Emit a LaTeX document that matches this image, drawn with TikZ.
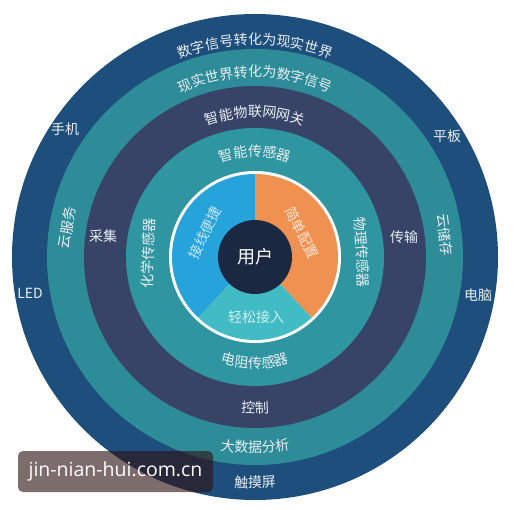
\documentclass[tikz,border=0pt]{standalone}
\usepackage{fontspec}
\setmainfont{Noto Sans CJK SC}
\newfontfamily\wmfont{Open Sans}
\usetikzlibrary{decorations.text}
\definecolor{ringA}{HTML}{1E4E7B}
\definecolor{ringB}{HTML}{2E8C99}
\definecolor{ringC}{HTML}{374468}
\definecolor{ringD}{HTML}{2F95A0}
\definecolor{pblue}{HTML}{27A3DC}
\definecolor{porange}{HTML}{EF9150}
\definecolor{pteal}{HTML}{41BCC4}
\definecolor{ccol}{HTML}{1B2841}
\definecolor{labc}{HTML}{E8EEF2}
\definecolor{wmc}{RGB}{46,19,19}
\newcommand\lblfmt{\fontsize{14}{14}\selectfont\color{labc}}
\begin{document}
\begin{tikzpicture}[x=1pt,y=1pt,
  lab/.style={text=labc, font=\fontsize{14}{14}\selectfont, inner sep=0pt},
  pielab/.style={text=white, text opacity=0.75, font=\fontsize{14}{14}\selectfont, inner sep=0pt},
  toptext/.style={decorate, decoration={text along path, text align=center, text={|\lblfmt|#1}}},
  bottext/.style={decorate, decoration={text along path, text align=center, text={|\lblfmt|#1}}}]
\useasboundingbox (0,0) rectangle (514,509);
\fill[white] (0,0) rectangle (514,509);
\coordinate (C) at (255,252);
% rings
\fill[ringA] (C) circle[radius=243];
\fill[ringB] (C) circle[radius=208];
\fill[ringC] (C) circle[radius=171];
\fill[ringD] (C) circle[radius=129];
\fill[white] (C) circle[radius=86];
% pie
\begin{scope}[shift={(C)}]
\fill[pblue] (0,0) -- (90:83) arc[start angle=90, end angle=227, radius=83] -- cycle;
\fill[porange] (0,0) -- (90:83) arc[start angle=90, end angle=-47, radius=83] -- cycle;
\fill[pteal] (0,0) -- (227:83) arc[start angle=227, end angle=313, radius=83] -- cycle;
% curved texts (top)
\path[toptext={数字信号转化为现实世界}] (140:212) arc[start angle=140, end angle=40, radius=212];
\path[toptext={现实世界转化为数字信号}] (140:180) arc[start angle=140, end angle=40, radius=180];
\path[toptext={智能物联网网关}] (150:140) arc[start angle=150, end angle=30, radius=140];
\path[toptext={智能传感器}] (160:100) arc[start angle=160, end angle=20, radius=100];
% curved texts (bottom)
\path[bottext={电阻传感器}] (220:111) arc[start angle=220, end angle=320, radius=111];
\path[bottext={控制}] (230:156) arc[start angle=230, end angle=310, radius=156];
\path[bottext={大数据分析}] (235:196) arc[start angle=235, end angle=305, radius=196];
\path[bottext={触摸屏}] (240:231) arc[start angle=240, end angle=300, radius=231];
\end{scope}
% center
\node[circle, fill=ccol, minimum size=74pt, inner sep=0pt, text=white, font=\fontsize{18}{18}\selectfont] (user) at (C) {用户};
% outer ring labels
\node[lab] (shouji) at (65,380) {手机};
\node[lab] (pingban) at (447,373) {平板};
\node[lab] (led) at (30,216) {LED};
\node[lab] (diannao) at (478,214) {电脑};
% teal ring side labels
\node[lab, rotate=81] (yunfuwu) at (67,281) {云服务};
\node[lab, rotate=-83] (yuncuncun) at (445,274) {云储存};
% dark ring labels
\node[lab] (caiji) at (103,273) {采集};
\node[lab] (chuanshu) at (404,272) {传输};
% inner teal ring labels
\node[lab, rotate=88] (huaxue) at (148,256) {化学传感器};
\node[lab, rotate=-87] (wuli) at (362,257) {物理传感器};
% pie labels
\node[pielab, rotate=64] (jiexian) at (205,276) {接线便捷};
\node[pielab, rotate=-63] (jiandan) at (302,276) {简单配置};
\node[pielab] (qingsong) at (256,192) {轻松接入};
% watermark
\node[fill=wmc, fill opacity=0.62, text opacity=1, rounded corners=5pt, minimum width=195pt, minimum height=41pt, inner sep=0pt, text=white, font=\wmfont\fontsize{19.5}{20}\selectfont] (wm) at (115.5,37.5) {jin-nian-hui.com.cn};
\end{tikzpicture}
\end{document}
